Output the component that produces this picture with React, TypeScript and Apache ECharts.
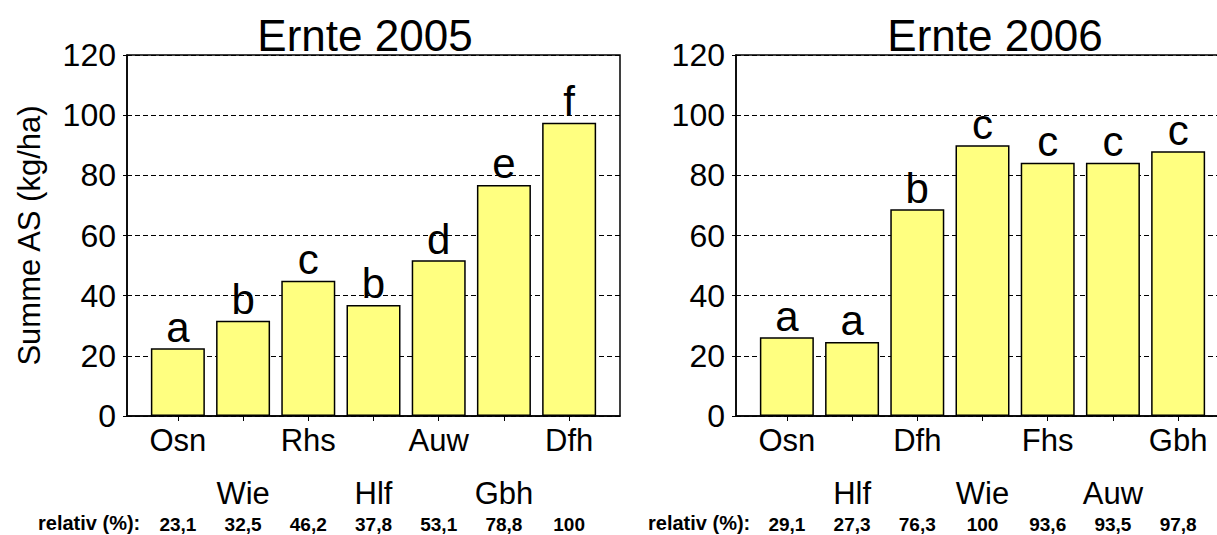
import React, { useEffect, useRef } from "react";
import * as echarts from "echarts";

const catsA = ["Osn", "Wie", "Rhs", "Hlf", "Auw", "Gbh", "Dfh"];
const valsA = [22.5, 31.7, 45.0, 36.9, 51.8, 76.8, 97.5];
const lettersA = ["a", "b", "c", "b", "d", "e", "f"];
const relA = ["23,1", "32,5", "46,2", "37,8", "53,1", "78,8", "100"];

const catsB = ["Osn", "Hlf", "Dfh", "Wie", "Fhs", "Auw", "Gbh"];
const valsB = [26.2, 24.6, 68.7, 90.0, 84.2, 84.2, 88.0];
const lettersB = ["a", "a", "b", "c", "c", "c", "c"];
const relB = ["29,1", "27,3", "76,3", "100", "93,6", "93,5", "97,8"];

const titles = ["Ernte 2005", "Ernte 2006"];
const yName = "Summe AS (kg/ha)";
const relLabel = "relativ (%):";
const yTicks = { min: 0, max: 120, interval: 20 };

const FONT = "'Liberation Sans', Arial, sans-serif";

export default function App() {
  const ref = useRef<HTMLDivElement>(null);
  useEffect(() => {
    if (!ref.current) return;
    const chart = echarts.init(ref.current, null, { renderer: "svg" });
    const panels = [
      { cats: catsA, vals: valsA, letters: lettersA, rel: relA, left: 127, titleX: 360, relX: 38 },
      { cats: catsB, vals: valsB, letters: lettersB, rel: relB, left: 736, titleX: 990, relX: 648 },
    ];
    const grids: any[] = [];
    const xAxes: any[] = [];
    const yAxes: any[] = [];
    const series: any[] = [];
    const title: any[] = [];
    const graphic: any[] = [];
    panels.forEach((p, gi) => {
      const idx = p.cats.map((_, i) => i);
      grids.push({
        left: p.left, top: 55, width: 493, height: 361,
        show: true, borderColor: "#000", borderWidth: 1.5, containLabel: false,
      });
      xAxes.push({
        type: "value", gridIndex: gi, min: -0.78, max: 6.78, position: "bottom",
        axisLine: { show: true, onZero: false, lineStyle: { color: "#000", width: 1.5 } },
        axisTick: { show: true, customValues: idx, length: 5, lineStyle: { color: "#000", width: 1 } },
        splitLine: { show: false },
        axisLabel: {
          customValues: idx, margin: 9, hideOverlap: false,
          formatter: (v: number) => {
            const i = Math.round(v);
            return i % 2 === 0 ? `{n|${p.cats[i]}}` : `{s| }\n{n|${p.cats[i]}}`;
          },
          rich: {
            n: { fontSize: 31, lineHeight: 30, color: "#000", fontFamily: FONT },
            s: { fontSize: 10, lineHeight: 53 },
          },
        },
      });
      xAxes.push({
        type: "value", gridIndex: gi, min: -0.78, max: 6.78, position: "bottom",
        axisLine: { show: false, onZero: false }, axisTick: { show: false }, splitLine: { show: false },
        axisLabel: {
          customValues: idx, margin: 98, hideOverlap: false,
          formatter: (v: number) => p.rel[Math.round(v)],
          fontSize: 19, fontWeight: "bold", lineHeight: 20, color: "#000", fontFamily: FONT,
        },
      });
      yAxes.push({
        type: "value", gridIndex: gi, ...yTicks, position: "left",
        name: gi === 0 ? yName : "", nameLocation: "middle", nameGap: 82,
        nameTextStyle: { fontSize: 31, color: "#000", fontFamily: FONT },
        axisLine: { show: true, onZero: false, lineStyle: { color: "#000", width: 1.5 } },
        axisTick: { show: true, length: 4, lineStyle: { color: "#000" } },
        axisLabel: { fontSize: 32, color: "#000", margin: 11, fontFamily: FONT },
        splitLine: { show: true, lineStyle: { type: [5, 3], color: "#000", width: 1 } },
      });
      series.push({
        type: "bar", xAxisIndex: gi * 2, yAxisIndex: gi,
        data: p.vals.map((v, i) => [i, v]),
        barWidth: 54,
        itemStyle: { color: "#FFFF80", borderColor: "#000", borderWidth: 1.5 },
        label: {
          show: true, position: "top", distance: 1,
          formatter: (q: any) => p.letters[q.dataIndex],
          fontSize: 42, lineHeight: 40, color: "#000", fontFamily: FONT,
        },
      });
      title.push({
        text: titles[gi], left: p.titleX, textAlign: "center", top: 8,
        textStyle: { fontSize: 44, fontWeight: "normal", color: "#000", fontFamily: FONT },
      });
      graphic.push({
        type: "text", left: p.relX, top: 513,
        style: { text: relLabel, fontSize: 20, fontWeight: "bold", fill: "#000", font: `bold 20px ${FONT}` },
      });
    });
    chart.setOption({
      animation: false,
      backgroundColor: "#fff",
      textStyle: { fontFamily: FONT },
      title, grid: grids, xAxis: xAxes, yAxis: yAxes, series, graphic,
    });
    return () => chart.dispose();
  }, []);
  return (
    <div style={{ position: "fixed", left: 0, top: 0, width: 1217, height: 535, overflow: "hidden", background: "#fff" }}>
      <div ref={ref} style={{ width: 1240, height: 535 }} />
    </div>
  );
}
